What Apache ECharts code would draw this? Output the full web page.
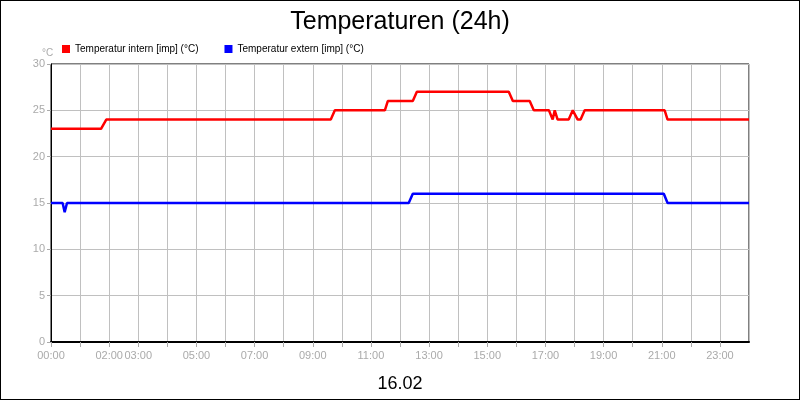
<!DOCTYPE html>
<html><head><meta charset="utf-8">
<script src="https://cdn.jsdelivr.net/npm/echarts@6/dist/echarts.min.js"></script>
<style>html,body{margin:0;padding:0;background:#fff}#c{width:798px;height:398px;border:1px solid #000}</style>
</head><body><div id="c"></div>
<script>
const seriesNames = ['Temperatur intern [imp] (°C)', 'Temperatur extern [imp] (°C)'];
const internHours = [0,1.72,1.9,9.62,9.76,11.48,11.58,12.44,12.58,15.74,15.88,16.46,16.6,17.12,17.25,17.32,17.42,17.8,17.94,18.0,18.11,18.21,18.35,21.1,21.2,24];
const internTemps = [23,23,24,24,25,25,26,26,27,27,26,26,25,25,24,25,24,24,25,25,24,24,25,25,24,24];
const externHours = [0,0.4,0.47,0.55,12.3,12.44,21.07,21.2,24];
const externTemps = [15,15,14,15,15,16,16,15,15];
const labeledHours = [0,2,3,5,7,9,11,13,15,17,19,21,23];
const pair = (h, v) => h.map((x, i) => [x, v[i]]);
const chart = echarts.init(document.getElementById('c'));
const pad = n => String(n).padStart(2,'0') + ':00';
const F = 'Liberation Sans';
chart.setOption({
  animation: false,
  textStyle: {fontFamily: F},
  title: [
    {text: 'Temperaturen (24h)', left: 'center', top: 4, textStyle: {fontSize: 25, fontWeight: 'normal', color: '#000', fontFamily: F}},
    {text: '16.02', left: 'center', top: 369, textStyle: {fontSize: 18, fontWeight: 'normal', color: '#000', fontFamily: F}},
    {text: '°C', left: 36, top: 42, textStyle: {fontSize: 10, fontWeight: 'normal', color: '#aaa', fontFamily: F}}
  ],
  legend: {left: 56, top: 38, itemWidth: 8, itemHeight: 8, itemGap: 26, icon: 'rect',
    textStyle: {fontSize: 10, color: '#000', fontFamily: F}, data: seriesNames},
  grid: {left: 50, right: 50, top: 63, bottom: 57, show: true, borderColor: '#000', borderWidth: 1},
  xAxis: {type: 'value', min: 0, max: 24, interval: 1,
    axisLine: {lineStyle: {color: '#000', width: 2}},
    axisTick: {show: true, lineStyle: {color: '#aaa'}},
    splitLine: {show: true, lineStyle: {color: '#c0c0c0'}},
    axisLabel: {color: '#aaa', fontSize: 11, margin: 8, showMaxLabel: false, fontFamily: F,
      formatter: v => labeledHours.includes(v) ? pad(v) : ''}},
  yAxis: {type: 'value', min: 0, max: 30, interval: 5,
    axisLine: {show: true, lineStyle: {color: '#000'}},
    axisTick: {show: true, length: 4, lineStyle: {color: '#aaa'}},
    splitLine: {show: true, lineStyle: {color: '#c0c0c0'}},
    axisLabel: {color: '#aaa', fontSize: 11, margin: 6, fontFamily: F}},
  series: [
    {name: seriesNames[0], type: 'line', data: pair(internHours, internTemps), showSymbol: false, color: '#ff0000', lineStyle: {width: 2.5}},
    {name: seriesNames[1], type: 'line', data: pair(externHours, externTemps), showSymbol: false, color: '#0000ff', lineStyle: {width: 2.5}}
  ]
});
</script></body></html>
